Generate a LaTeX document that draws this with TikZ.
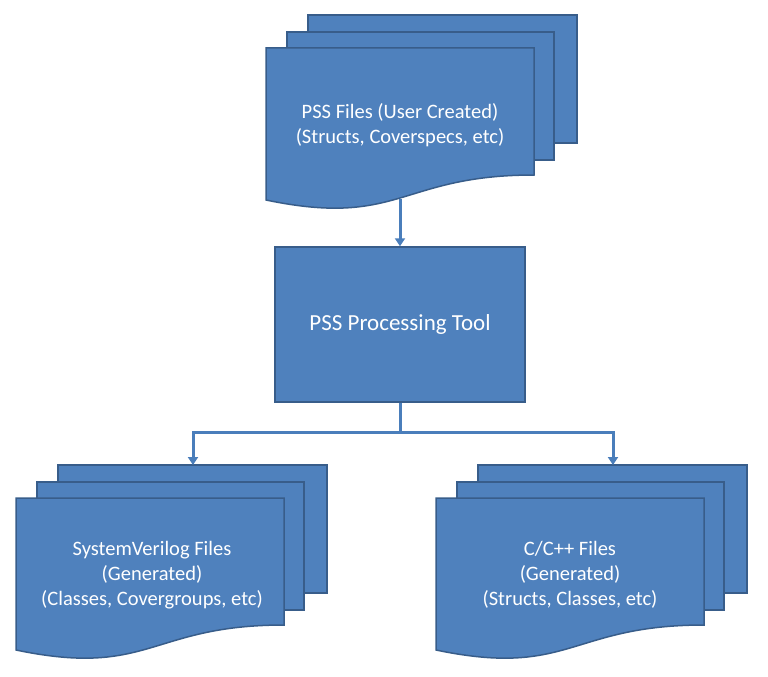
\documentclass[tikz,border=0pt]{standalone}
\usepackage{fontspec}
\setmainfont{Carlito}
\usetikzlibrary{arrows.meta}
\definecolor{docfill}{RGB}{79,129,189}
\definecolor{docline}{RGB}{56,93,138}
\definecolor{connc}{RGB}{74,126,187}
\tikzset{
  page/.style={fill=docfill,draw=docline,line width=1.5pt,line join=miter},
  doctext/.style={text=white,align=center,font=\fontsize{20.5}{25}\selectfont,inner sep=0pt},
  toolbox/.style={fill=docfill,draw=docline,line width=1.5pt,text=white,
    minimum width=250pt,minimum height=155pt,inner sep=0pt,
    font=\fontsize{23}{27}\selectfont},
  conn/.style={draw=connc,line width=3pt},
  arr/.style={conn,-{Triangle[width=10pt,length=8pt]}},
  multidoc/.pic={
    \path[page] (42,-33) rectangle (311,95);
    \path[page] (21,-16) rectangle (288,112);
    \path[page] (0,0) -- (268,0) -- (268,127) .. controls (134,127) and (134,180) .. (0,152) -- cycle;
  }
}
\begin{document}
\begin{tikzpicture}[x=1pt,y=-1pt]
\useasboundingbox (0,0) rectangle (768,677);
% top multi-document
\pic at (266,48) {multidoc};
\node[doctext] (pss) at (400,125) {PSS Files (User Created)\\(Structs, Coverspecs, etc)};
\coordinate (pssbot) at (400,199);
% tool
\node[toolbox] (tool) at (400,324.5) {PSS Processing Tool};
% bottom-left
\pic at (16,498) {multidoc};
\node[doctext] (sv) at (152,575) {SystemVerilog Files\\(Generated)\\(Classes, Covergroups, etc)};
\coordinate (svtop) at (193,465);
% bottom-right
\pic at (436,498) {multidoc};
\node[doctext] (cpp) at (570,575) {C/C++ Files\\(Generated)\\(Structs, Classes, etc)};
\coordinate (cpptop) at (613,465);
% connectors
\draw[arr] (pssbot) -- (tool.north);
\coordinate (split) at (400,432);
\draw[conn] (tool.south) -- (split);
\draw[arr] (split) -| (svtop);
\draw[arr] (split) -| (cpptop);
\end{tikzpicture}
\end{document}
